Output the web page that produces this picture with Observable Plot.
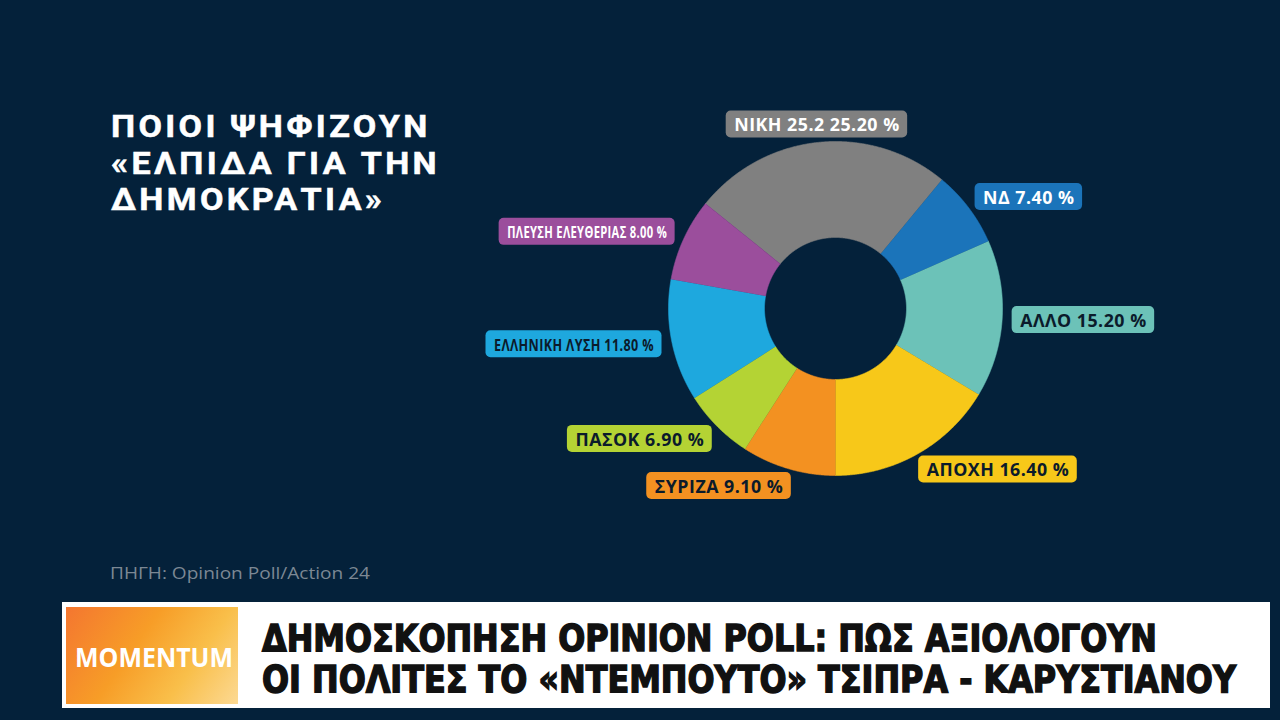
<!DOCTYPE html>
<html><head><meta charset="utf-8">
<script src="https://cdn.jsdelivr.net/npm/d3@7"></script>
<script src="https://cdn.jsdelivr.net/npm/@observablehq/plot@0.6"></script>
<style>
html,body{margin:0;padding:0;background:#04213a;}
#page{position:relative;width:1280px;height:720px;overflow:hidden;background:#04213a;font-family:"Open Sans",sans-serif;}
#chart{position:absolute;left:0;top:0;}
#title{position:absolute;left:111px;top:109px;color:#fff;font-family:Roboto,"Open Sans",sans-serif;font-weight:700;font-size:30.5px;line-height:36.5px;white-space:nowrap;letter-spacing:3px;-webkit-text-stroke:0.5px #fff;transform-origin:left top;}
#source{position:absolute;left:110px;top:565px;color:#7c8894;font-size:16.5px;line-height:1;white-space:nowrap;transform-origin:left center;}
#banner{position:absolute;left:62px;top:602px;width:1208px;height:106px;background:#fff;}
#logo{position:absolute;left:4px;top:5px;width:172px;height:97px;background:linear-gradient(125deg,#f47630 0%,#f79d27 40%,#f9bf4a 70%,#fcd993 100%);}
#logotext{position:absolute;left:9px;top:37px;color:#fff;font-weight:700;font-size:26px;line-height:1;white-space:nowrap;transform-origin:left center;}
.hl{position:absolute;left:200px;color:#111;font-family:"Liberation Sans Narrow","DejaVu Sans Condensed","Roboto",sans-serif;font-weight:900;font-size:37px;line-height:1;white-space:nowrap;transform-origin:left center;-webkit-text-stroke:1.4px #111;}
svg text{letter-spacing:0.5px;}
</style></head>
<body><div id="page">
<div id="chart"></div>
<div id="title">ΠΟΙΟΙ ΨΗΦΙΖΟΥΝ<br>«ΕΛΠΙΔΑ ΓΙΑ ΤΗΝ<br>ΔΗΜΟΚΡΑΤΙΑ»</div>
<div id="source">ΠΗΓΗ: Opinion Poll/Action 24</div>
<div id="banner">
  <div id="logo"><div id="logotext">MOMENTUM</div></div>
  <div class="hl" id="h1" style="top:18px">ΔΗΜΟΣΚΟΠΗΣΗ OPINION POLL: ΠΩΣ ΑΞΙΟΛΟΓΟΥΝ</div>
  <div class="hl" id="h2" style="top:59px">ΟΙ ΠΟΛΙΤΕΣ ΤΟ «ΝΤΕΜΠΟΥΤΟ» ΤΣΙΠΡΑ - ΚΑΡΥΣΤΙΑΝΟΥ</div>
</div>
</div>
<script>
// ---- data ----
const parties = ["ΝΙΚΗ", "ΝΔ", "ΑΛΛΟ", "ΑΠΟΧΗ", "ΣΥΡΙΖΑ", "ΠΑΣΟΚ", "ΕΛΛΗΝΙΚΗ ΛΥΣΗ", "ΠΛΕΥΣΗ ΕΛΕΥΘΕΡΙΑΣ"];
const labelNames = ["ΝΙΚΗ 25.2", "ΝΔ", "ΑΛΛΟ", "ΑΠΟΧΗ", "ΣΥΡΙΖΑ", "ΠΑΣΟΚ", "ΕΛΛΗΝΙΚΗ ΛΥΣΗ", "ΠΛΕΥΣΗ ΕΛΕΥΘΕΡΙΑΣ"];
const values = [25.2, 7.4, 15.2, 16.4, 9.1, 6.9, 11.8, 8.0];
const colors = ["#808080", "#1b74ba", "#6cc2b8", "#f7c819", "#f39121", "#b4d334", "#1ea8de", "#9b4e9c"];
const textColors = ["#ffffff", "#ffffff", "#0b1b2b", "#0b1b2b", "#0b1b2b", "#0b1b2b", "#0b1b2b", "#ffffff"];
const condensed = [false, false, false, false, false, false, true, true];

// ---- layout/style ----
const cx = 835, cy = 308, R = 167;
const innerR = 71 / 167, labelR = 185 / 167;
const startAngle = -51.12 * Math.PI / 180;
const fontSize = 17.8, pad = 8, boxH = 27, condensedWidth = 160;
const labelFont = `700 ${fontSize}px "Open Sans"`;

const arcs = d3.pie().sort(null).value(d => d.value).startAngle(startAngle).endAngle(startAngle + 2 * Math.PI)(
  parties.map((p, i) => ({party: p, value: values[i], color: colors[i], label: `${labelNames[i]} ${values[i].toFixed(2)} %`, textColor: textColors[i], condensed: condensed[i]}))
);

// slice outlines
const pts = [];
for (const a of arcs) {
  const n = Math.max(8, Math.ceil((a.endAngle - a.startAngle) / 0.005));
  for (let k = 0; k <= n; k++) { const t = a.startAngle + (a.endAngle - a.startAngle) * k / n; pts.push({party: a.data.party, color: a.data.color, x: Math.sin(t), y: Math.cos(t)}); }
  for (let k = n; k >= 0; k--) { const t = a.startAngle + (a.endAngle - a.startAngle) * k / n; pts.push({party: a.data.party, color: a.data.color, x: innerR * Math.sin(t), y: innerR * Math.cos(t)}); }
}

// measure labels
const meas = document.createElement("span");
meas.style.cssText = `position:absolute;visibility:hidden;white-space:nowrap;font:${labelFont};letter-spacing:0.5px;`;
document.body.appendChild(meas);
const k = R; // px per unit
const labels = arcs.map(a => {
  const mid = (a.startAngle + a.endAngle) / 2;
  const s = Math.sin(mid);
  const side = Math.abs(s) < 0.2 ? "middle" : s > 0 ? "start" : "end";
  meas.textContent = a.data.label;
  let w = meas.getBoundingClientRect().width;
  if (a.data.condensed) w = Math.min(w, condensedWidth);
  const lx = labelR * s, ly = labelR * Math.cos(mid);
  let x1, x2;
  if (side === "start") { x1 = lx - pad / k; x2 = lx + (w + pad) / k; }
  else if (side === "end") { x1 = lx - (w + pad) / k; x2 = lx + pad / k; }
  else { x1 = lx - (w / 2 + pad) / k; x2 = lx + (w / 2 + pad) / k; }
  return {...a.data, lx, ly, side, w, x1, x2, y1: ly - boxH / 2 / k, y2: ly + boxH / 2 / k};
});
meas.remove();

const textMark = side => Plot.text(labels.filter(d => d.side === side), {
  x: "lx", y: "ly", text: "label", fill: "textColor", textAnchor: side,
  fontSize, fontWeight: 700, fontFamily: "Open Sans", dy: 1
});

const chart = Plot.plot({
  width: 1280, height: 600,
  style: {background: "transparent", overflow: "visible"},
  x: {domain: [-1, 1], range: [cx - R, cx + R], axis: null},
  y: {domain: [-1, 1], range: [cy + R, cy - R], axis: null},
  color: {type: "identity"},
  marks: [
    Plot.line(pts, {x: "x", y: "y", z: "party", fill: "color", stroke: "color", strokeWidth: 0.6, curve: "linear"}),
    Plot.rect(labels, {x1: "x1", x2: "x2", y1: "y1", y2: "y2", fill: "color", rx: 5, ry: 5}),
    textMark("start"), textMark("end"), textMark("middle")
  ]
});
document.getElementById("chart").appendChild(chart);

// condensed labels
d3.select(chart).selectAll("text").each(function() {
  const d = labels.find(l => l.label === this.textContent);
  if (d && d.condensed) { this.setAttribute("textLength", d.w); this.setAttribute("lengthAdjust", "spacingAndGlyphs"); this.setAttribute("font-size", fontSize - 1); }
});

// fit HTML texts to widths
function fit(id, target) {
  const el = document.getElementById(id);
  const w = el.getBoundingClientRect().width;
  el.style.transform = `scaleX(${target / w})`;
}
fit("title", 329);
fit("h1", 895); fit("h2", 974); fit("logotext", 158); fit("source", 260);
</script>
</body></html>
